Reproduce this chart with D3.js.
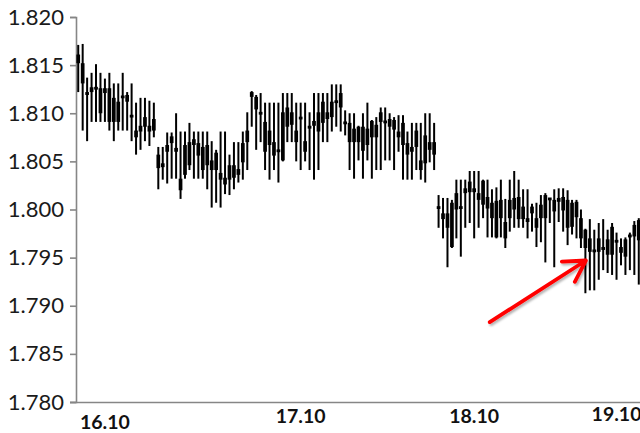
<!DOCTYPE html>
<html>
<head>
<meta charset="utf-8">
<script src="https://cdn.jsdelivr.net/npm/d3@7/dist/d3.min.js"></script>
<style>
html,body{margin:0;padding:0;background:#fff;}
svg{display:block;}
</style>
</head>
<body>
<svg id="chart" width="640" height="433"></svg>
<script>
// ---- data ----
const highs = [1.8171,1.8172,1.8137,1.8142,1.8151,1.8142,1.8136,1.8142,1.8131,1.8131,1.8142,1.8122,1.8131,1.8111,1.8116,1.8116,1.8113,1.8111,
1.8065,1.8065,1.8080,1.8080,1.8100,1.8081,1.8081,1.8090,1.8081,1.8081,1.8081,1.8081,1.8071,1.8062,1.8081,1.8081,1.8057,1.8070,1.8070,1.8081,1.8101,
1.8123,1.8119,1.8121,1.8111,1.8111,1.8111,1.8111,1.8121,1.8121,1.8121,1.8111,1.8111,1.8111,1.8101,1.8121,1.8121,1.8121,1.8121,1.8130,1.8130,1.8130,
1.8103,1.8100,1.8100,1.8087,1.8100,1.8111,1.8093,1.8096,1.8106,1.8106,1.8100,1.8096,1.8098,1.8098,1.8081,1.8090,1.8090,1.8090,1.8100,1.8100,1.8090,
1.8015,1.8012,1.8012,1.8010,1.8031,1.8031,1.8031,1.8040,1.8040,1.8040,1.8031,1.8031,1.8021,1.8023,1.8031,1.8011,1.8031,1.8040,1.8031,1.8021,1.8021,
1.8006,1.8007,1.8015,1.8017,1.8012,1.8021,1.8022,1.8022,1.8020,1.8010,1.8010,1.8000,
1.7980,1.7990,1.7979,1.7986,1.7990,1.7979,1.7986,1.7976,1.7970,1.7971,1.7976,1.7988,1.7991];
const lows = [1.8122,1.8082,1.8071,1.8091,1.8091,1.8091,1.8091,1.8082,1.8071,1.8082,1.8082,1.8082,1.8071,1.8057,1.8062,1.8071,1.8066,1.8075,
1.8021,1.8031,1.8027,1.8032,1.8032,1.8011,1.8032,1.8041,1.8032,1.8032,1.8032,1.8021,1.8002,1.8007,1.8002,1.8016,1.8015,1.8021,1.8028,1.8031,1.8041,
1.8086,1.8062,1.8070,1.8041,1.8031,1.8041,1.8028,1.8050,1.8070,1.8070,1.8050,1.8041,1.8050,1.8041,1.8031,1.8041,1.8070,1.8070,1.8081,1.8086,1.8081,
1.8077,1.8041,1.8032,1.8051,1.8032,1.8051,1.8032,1.8041,1.8041,1.8051,1.8051,1.8041,1.8060,1.8031,1.8031,1.8031,1.8041,1.8031,1.8028,1.8049,1.8041,
1.7981,1.7970,1.7940,1.7960,1.7970,1.7951,1.7981,1.7986,1.7970,1.7981,1.7991,1.7971,1.7971,1.7970,1.7971,1.7960,1.7977,1.7981,1.7981,1.7981,1.7970,
1.7977,1.7961,1.7966,1.7945,1.7986,1.7940,1.7987,1.7977,1.7963,1.7974,1.7970,1.7960,
1.7913,1.7916,1.7916,1.7927,1.7937,1.7934,1.7932,1.7927,1.7942,1.7932,1.7937,1.7932,1.7922];
const opens = [1.8161,1.8152,1.8122,1.8127,1.8127,1.8126,1.8126,1.8126,1.8116,1.8112,1.8118,1.8119,1.8098,1.8082,1.8087,1.8096,1.8087,1.8094,
1.8057,1.8048,1.8067,1.8076,1.8064,1.8032,1.8067,1.8070,1.8073,1.8069,1.8065,1.8067,1.8051,1.8059,1.8038,1.8033,1.8046,1.8046,1.8042,1.8069,1.8082,
1.8122,1.8117,1.8101,1.8091,1.8082,1.8070,1.8062,1.8101,1.8106,1.8101,1.8082,1.8096,1.8071,1.8087,1.8092,1.8101,1.8112,1.8101,1.8112,1.8113,1.8121,
1.8091,1.8090,1.8084,1.8086,1.8086,1.8084,1.8092,1.8088,1.8101,1.8092,1.8094,1.8093,1.8081,1.8090,1.8069,1.8065,1.8082,1.8051,1.8077,1.8070,1.8070,
1.8003,1.7996,1.7996,1.8007,1.8017,1.8003,1.8022,1.8029,1.8022,1.8017,1.8030,1.8013,1.8007,1.8009,1.8010,1.7987,1.8010,1.8012,1.8013,1.8003,1.7991,
1.8003,1.7991,1.8005,1.8015,1.8012,1.8010,1.8012,1.8013,1.8010,1.8007,1.8008,1.7991,
1.7979,1.7970,1.7958,1.7970,1.7961,1.7969,1.7982,1.7968,1.7961,1.7969,1.7974,1.7984,1.7989];
const closes = [1.8152,1.8131,1.8119,1.8122,1.8125,1.8100,1.8121,1.8091,1.8091,1.8091,1.8116,1.8112,1.8096,1.8075,1.8081,1.8086,1.8081,1.8082,
1.8043,1.8044,1.8060,1.8069,1.8060,1.8020,1.8036,1.8046,1.8067,1.8056,1.8041,1.8046,1.8041,1.8041,1.8031,1.8026,1.8031,1.8033,1.8036,1.8049,1.8070,
1.8117,1.8104,1.8099,1.8060,1.8067,1.8056,1.8060,1.8051,1.8086,1.8088,1.8070,1.8094,1.8060,1.8084,1.8087,1.8081,1.8090,1.8094,1.8096,1.8111,1.8106,
1.8089,1.8070,1.8070,1.8070,1.8061,1.8067,1.8075,1.8075,1.8091,1.8090,1.8086,1.8083,1.8075,1.8067,1.8057,1.8060,1.8065,1.8041,1.8048,1.8062,1.8057,
1.8001,1.7990,1.7981,1.7961,1.8000,1.8001,1.8017,1.8018,1.8018,1.8010,1.8005,1.8001,1.7991,1.7971,1.7991,1.7970,1.7991,1.8000,1.7990,1.7990,1.7987,
1.7996,1.7981,1.7991,1.7991,1.8010,1.7998,1.8008,1.7999,1.7981,1.7982,1.7992,1.7970,
1.7960,1.7956,1.7956,1.7956,1.7958,1.7953,1.7953,1.7966,1.7955,1.7951,1.7971,1.7972,1.7968];
const dayLabels = ["16.10", "17.10", "18.10", "19.10"];
const dayLabelBar = [6, 50, 89, 121];
const yTicks = [1.780, 1.785, 1.790, 1.795, 1.800, 1.805, 1.810, 1.815, 1.820];
const arrowFrom = [92.5, 1.7883];   // [bar index, price]
const arrowTo = [114.1, 1.7947];

// ---- chart ----
const svg = d3.select("#chart");
const W = 640, H = 433;
const mLeft = 76, mRight = 641, mTop = 17, mBottom = 402;
const n = highs.length;
const bars = d3.range(n);

const x = d3.scaleBand().domain(bars).range([mLeft, mRight]).padding(0);
const xc = i => x(i) + x.bandwidth() / 2;
const xi = v => mLeft + (v + 0.5) * x.step();
const y = d3.scaleLinear().domain([1.780, 1.820]).range([mBottom, mTop]);

const axisColor = "#868686";

// y axis
const yAxis = d3.axisLeft(y).tickValues(yTicks).tickSize(6).tickPadding(6).tickFormat(d3.format(".3f"));
const gy = svg.append("g").attr("transform", `translate(${mLeft},0)`).call(yAxis);
gy.select(".domain").attr("stroke", axisColor).attr("stroke-width", 1.6);
gy.selectAll(".tick line").attr("stroke", axisColor).attr("stroke-width", 1.6);
gy.selectAll(".tick text").attr("fill", "#1a1a1a")
  .style("font-family", "Lato, 'Open Sans', sans-serif").style("font-size", "22px");

// x axis line
const xAxis = d3.axisBottom(x).tickValues([]).tickSizeOuter(0);
const gx = svg.append("g").attr("transform", `translate(0,${mBottom})`).call(xAxis);
gx.select(".domain").attr("stroke", axisColor).attr("stroke-width", 1.6)
  .attr("d", `M${mLeft - 6},0.5H${W}`);

// day labels
svg.append("g").selectAll("text").data(dayLabels).join("text")
  .attr("x", (d, i) => xi(dayLabelBar[i]))
  .attr("y", (d, i) => i === 0 ? 429 : 423 - (i === 3 ? 2 : 0))
  .attr("text-anchor", "middle")
  .attr("fill", "#111")
  .style("font-family", "Lato, 'Open Sans', sans-serif")
  .style("font-weight", "bold").style("font-size", "19.5px")
  .text(d => d);

// candles
const g = svg.append("g");
g.selectAll("line.wick").data(bars).join("line").attr("class", "wick")
  .attr("x1", xc).attr("x2", xc)
  .attr("y1", i => y(highs[i])).attr("y2", i => y(lows[i]))
  .attr("stroke", "#000").attr("stroke-width", 2);
const bw = 3.7;
g.selectAll("rect.body").data(bars).join("rect").attr("class", "body")
  .attr("x", i => xc(i) - bw / 2)
  .attr("width", bw)
  .attr("y", i => {
    const t = y(Math.max(opens[i], closes[i])), b = y(Math.min(opens[i], closes[i]));
    return b - t < 2.8 ? (t + b) / 2 - 1.4 : t;
  })
  .attr("height", i => Math.max(2.8, y(Math.min(opens[i], closes[i])) - y(Math.max(opens[i], closes[i]))))
  .attr("fill", "#000");

// arrow annotation
const defs = svg.append("defs");
const f = defs.append("filter").attr("id", "sh").attr("x", "-20%").attr("y", "-20%").attr("width", "140%").attr("height", "140%");
f.append("feDropShadow").attr("dx", 1.5).attr("dy", 2).attr("stdDeviation", 1.2).attr("flood-color", "#000").attr("flood-opacity", 0.3);

const ax1 = xi(arrowFrom[0]), ay1 = y(arrowFrom[1]);
const ax2 = xi(arrowTo[0]), ay2 = y(arrowTo[1]);
const ang = Math.atan2(ay1 - ay2, ax1 - ax2);
const hl = 24, ha = Math.PI / 6;
const w1 = [ax2 + hl * Math.cos(ang + ha), ay2 + hl * Math.sin(ang + ha)];
const w2 = [ax2 + hl * Math.cos(ang - ha), ay2 + hl * Math.sin(ang - ha)];
svg.append("path")
  .attr("d", `M${ax1},${ay1}L${ax2},${ay2}M${w1[0]},${w1[1]}L${ax2},${ay2}L${w2[0]},${w2[1]}`)
  .attr("fill", "none").attr("stroke", "#ff0000").attr("stroke-width", 3.8)
  .attr("stroke-linecap", "round").attr("stroke-linejoin", "round")
  .attr("filter", "url(#sh)");
</script>
</body>
</html>
